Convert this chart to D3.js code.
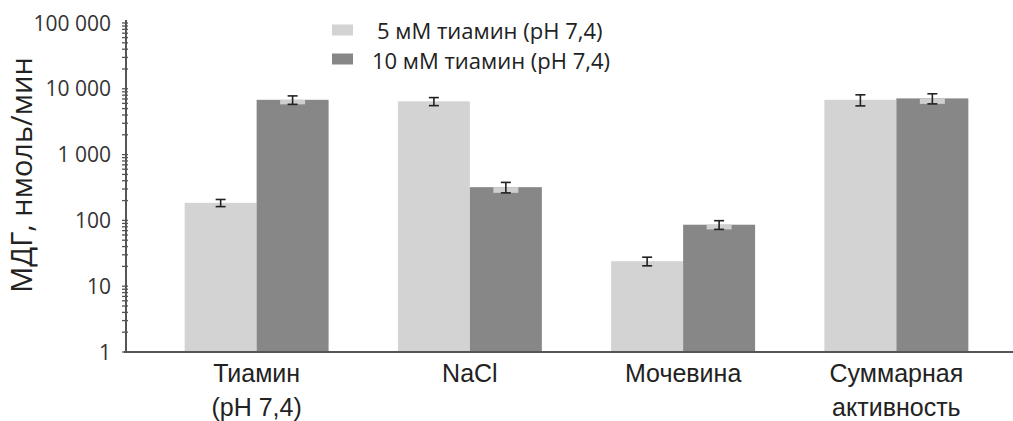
<!DOCTYPE html>
<html><head><meta charset="utf-8">
<script src="https://cdn.jsdelivr.net/npm/d3@7"></script>
<style>body{margin:0;background:#fff;}svg{display:block;}</style>
</head><body>
<svg id="c" width="1013" height="421"></svg>
<script>
const categories = [["Тиамин","(pH 7,4)"],["NaCl"],["Мочевина"],["Суммарная","активность"]];
const seriesNames = ["5 мМ тиамин (pH 7,4)","10 мМ тиамин (pH 7,4)"];
const values5 = [185, 6450, 24, 6800];
const values10 = [6800, 320, 86, 7150];
const err5 = [23, 900, 3.6, 1300];
const err10 = [1000, 58, 13, 1250];
const yTicks = [1,10,100,1000,10000,100000];
const yTickLabels = ["1","10","100","1 000","10 000","100 000"];
const colors = ["#d3d3d3","#878787"];

const svg = d3.select("#c");
const keys = categories.map((c,i)=>"c"+i);
const x0 = d3.scaleBand().domain(keys).range([150,1003]).paddingInner(0.325).paddingOuter(0.1625);
const x1 = d3.scaleBand().domain([0,1]).range([0,x0.bandwidth()]);
const y = d3.scaleLog().domain([1,100000]).range([352,23]);

const series = [values5, values10];
const errs = [err5, err10];

// bars
series.forEach((vals,s)=>{
  svg.append("g").selectAll("rect").data(vals).join("rect")
    .attr("x",(d,i)=>x0(keys[i])+x1(s))
    .attr("y",d=>y(d))
    .attr("width",x1.bandwidth())
    .attr("height",d=>y(1)-y(d))
    .attr("fill",colors[s]);
});
// light patch under dark error bars
svg.append("g").selectAll("rect").data(values10).join("rect")
  .attr("x",(d,i)=>x0(keys[i])+x1(1)+x1.bandwidth()/2-12.5)
  .attr("y",d=>y(d))
  .attr("width",25)
  .attr("height",(d,i)=>Math.max(0,y(d-err10[i])-y(d)))
  .attr("fill","#cfcfcf");
// error bars
series.forEach((vals,s)=>{
  const g = svg.append("g").attr("stroke","#222").attr("stroke-width",1.6);
  vals.forEach((v,i)=>{
    const cx = x0(keys[i])+x1(s)+x1.bandwidth()/2;
    const t = y(v+errs[s][i]), b = y(v-errs[s][i]);
    g.append("line").attr("x1",cx).attr("x2",cx).attr("y1",t).attr("y2",b);
    g.append("line").attr("x1",cx-5).attr("x2",cx+5).attr("y1",t).attr("y2",t);
    g.append("line").attr("x1",cx-5).attr("x2",cx+5).attr("y1",b).attr("y2",b);
  });
});

// y axis
const minor = [];
for(let d=1; d<100000; d*=10) for(let k=1;k<10;k++) minor.push(d*k);
minor.push(100000);
const ax = svg.append("g").attr("stroke","#555");
ax.append("line").attr("x1",126).attr("x2",126).attr("y1",y(100000)-3).attr("y2",y(1)).attr("stroke-width",2);
ax.selectAll("line.t").data(minor).join("line").attr("class","t")
  .attr("x1",122).attr("x2",128).attr("y1",d=>y(d)).attr("y2",d=>y(d)).attr("stroke-width",1.3);
svg.append("line").attr("x1",124).attr("x2",1013).attr("y1",y(1)).attr("y2",y(1)).attr("stroke","#555").attr("stroke-width",2);
svg.append("g").selectAll("text").data(yTicks).join("text")
  .attr("x",111).attr("y",d=>y(d)).attr("dy","0.36em").attr("text-anchor","end")
  .attr("font-family","Open Sans").attr("font-size",21).attr("fill","#333")
  .text((d,i)=>yTickLabels[i]);

// y title
svg.append("text").attr("transform","translate(32,175) rotate(-90)")
  .attr("text-anchor","middle").attr("font-family","Open Sans").attr("font-size",29).attr("fill","#222")
  .text("МДГ, нмоль/мин");

// x labels
categories.forEach((lines,i)=>{
  const t = svg.append("text").attr("text-anchor","middle")
    .attr("font-family","Liberation Sans").attr("font-size",25).attr("fill","#222");
  lines.forEach((l,j)=>{
    t.append("tspan").attr("x",x0(keys[i])+x0.bandwidth()/2).attr("y",382+j*33.5).text(l);
  });
});

// legend
const lg = svg.append("g");
seriesNames.forEach((n,i)=>{
  lg.append("rect").attr("x",332).attr("y",24.5+i*29).attr("width",21).attr("height",11).attr("fill",colors[i]);
  lg.append("text").attr("x",i===0?377:372).attr("y",38.5+i*30)
    .attr("font-family","Open Sans").attr("font-size",22).attr("fill","#222").text(n);
});
</script>
</body></html>
